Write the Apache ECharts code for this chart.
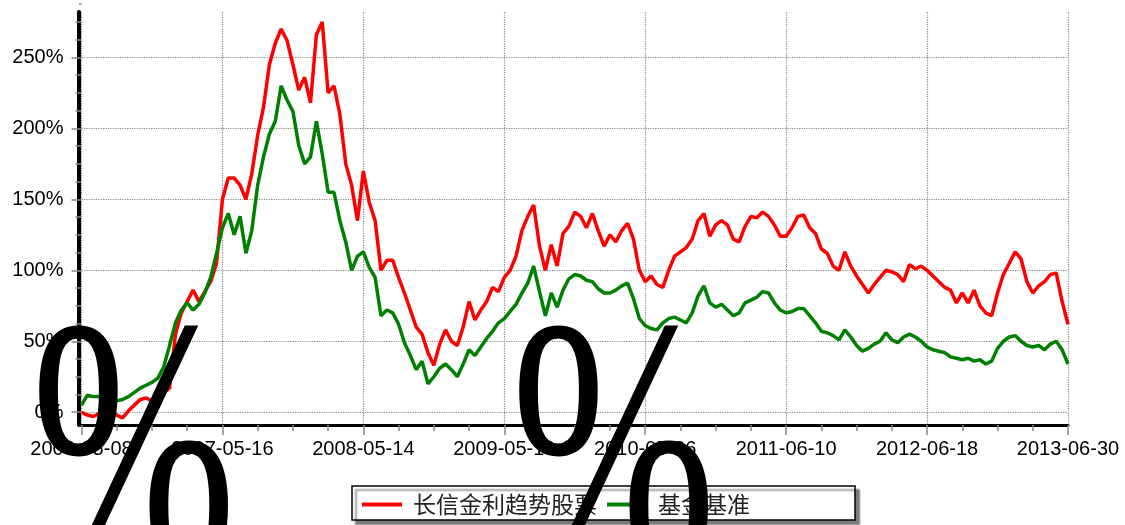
<!DOCTYPE html>
<html><head><meta charset="utf-8">
<script src="https://cdn.jsdelivr.net/npm/echarts@6/dist/echarts.min.js"></script>
<style>html,body{margin:0;padding:0;background:#fff}#c{width:1125px;height:525px}</style>
</head><body><div id="c"></div>
<script>
const tickLabels = ['2006-05-08','2007-05-16','2008-05-14','2009-05-19','2010-05-26','2011-06-10','2012-06-18','2013-06-30'];
const seriesNames = ['长信金利趋势股票','基金基准'];
const fundValues = [0,-2,-3,-1,3,1,-2,-4,1,5,9,10,8,11,14,17,55,70,78,86,78,85,92,105,
150,165,165,160,150,168,195,215,245,260,270,262,245,227,236,218,266,275,225,230,210,175,160,135,
170,148,135,100,107,107,95,84,72,60,55,42,33,48,58,50,47,60,78,65,72,78,88,85,
95,100,110,128,138,146,117,100,118,103,126,131,141,138,130,140,128,117,125,120,128,133,122,100,
92,96,90,88,100,110,113,116,122,135,140,124,132,135,132,122,120,131,138,137,141,138,132,124,
124,130,138,139,130,126,115,112,103,100,113,103,96,90,84,90,95,100,99,97,92,104,101,103,
100,96,92,88,86,77,84,77,86,75,70,68,84,97,105,113,108,92,84,89,92,97,98,78,
62];
const benchValues = [5,12,11,11,8,9,8,9,11,14,17,19,21,24,32,47,63,72,77,72,76,84,95,112,
130,140,125,138,112,128,160,180,196,205,230,220,212,188,175,180,205,182,155,155,135,120,100,110,
113,102,95,68,72,70,62,49,40,30,36,20,25,31,34,30,25,34,44,40,46,52,57,63,
66,71,76,84,91,103,85,68,84,74,86,94,97,96,93,92,87,84,84,86,89,91,80,66,
61,59,58,63,66,67,65,63,70,82,89,77,74,76,72,68,70,77,79,81,85,84,77,72,
70,71,73,73,68,63,57,56,54,51,58,53,47,43,45,48,50,56,51,49,53,55,53,50,
46,44,43,42,39,38,37,38,36,37,34,36,45,50,53,54,50,47,46,47,44,48,50,44,
34];

const chart = echarts.init(document.getElementById('c'), null, {renderer:'canvas'});
const lastIdx = fundValues.length - 1;
const step = lastIdx / (tickLabels.length - 1);
// plot area geometry
const gTop = 12, gBottomPx = 425, yMin = -9, yMax = 282;
const pxPer = (gBottomPx - gTop) / (yMax - yMin);
const zeroPx = gBottomPx + yMin * pxPer;
const scaleTop = 300;
const tickGridTop = zeroPx - scaleTop * pxPer;
const gridL = 81.5, gridR = 57;
const grey = '#888';
chart.setOption({
  animation:false,
  backgroundColor:'#fff',
  grid:[
    {left:gridL,right:gridR,top:gTop,bottom:525-gBottomPx,outerBoundsMode:'none'},
    {left:gridL,right:gridR,top:tickGridTop,bottom:525-zeroPx,outerBoundsMode:'none'}
  ],
  xAxis:[
    {type:'value',gridIndex:0,min:0,max:lastIdx,interval:step,
     axisLine:{show:true,onZero:false,lineStyle:{color:'#000',width:3}},
     axisTick:{show:true,length:10,lineStyle:{color:grey,width:1.5}},
     minorTick:{show:true,splitNumber:4,length:6,lineStyle:{color:grey,width:1.5}},
     splitLine:{show:true,lineStyle:{color:grey,type:'dotted',width:1.2}},
     axisLabel:{color:'#000',fontSize:20,fontFamily:'Liberation Sans',margin:14,
       formatter:v=>tickLabels[Math.round(v/step)]}},
    {type:'value',gridIndex:1,min:0,max:lastIdx,show:false}
  ],
  yAxis:[
    {type:'value',gridIndex:0,min:yMin,max:yMax,offset:3,
     axisLine:{show:true,onZero:false,lineStyle:{color:'#000',width:4}},
     axisTick:{show:false},axisLabel:{show:false},splitLine:{show:false}},
    {type:'value',gridIndex:1,min:0,max:scaleTop,interval:50,offset:3,
     axisLine:{show:false},
     axisTick:{show:true,length:10,lineStyle:{color:grey,width:1.5}},
     minorTick:{show:true,splitNumber:4,length:6,lineStyle:{color:grey,width:1.5}},
     splitLine:{show:true,lineStyle:{color:grey,type:'dotted',width:1.2}},
     axisLabel:{color:'#000',fontSize:20,fontFamily:'Liberation Sans',margin:15,
       formatter:v=>v+'%'}}
  ],
  legend:{left:352,top:489,orient:'horizontal',itemWidth:40,itemHeight:4,itemGap:10,z:10,
    padding:[4,10,4,10],
    textStyle:{fontSize:23,color:'#222',fontFamily:'Noto Sans CJK SC',padding:[0,0,0,6]},
    data:[{name:seriesNames[0],icon:'rect'},{name:seriesNames[1],icon:'rect'}]},
  series:[
    {name:seriesNames[0],type:'line',xAxisIndex:0,yAxisIndex:0,showSymbol:false,symbol:'none',color:'#ff0000',
     lineStyle:{width:3.5,color:'#ff0000'},data:fundValues.map((v,i)=>[i,v])},
    {name:seriesNames[1],type:'line',xAxisIndex:0,yAxisIndex:0,showSymbol:false,symbol:'none',color:'#008000',
     lineStyle:{width:3.5,color:'#008000'},data:benchValues.map((v,i)=>[i,v])}
  ],
  graphic:[
    {type:'rect',z:1,shape:{x:0,y:0,width:20,height:10},x:59,y:0,style:{fill:'#fff'}},
    {type:'rect',z:2,x:352,y:486,shape:{width:503,height:34},
     style:{fill:'#fff',stroke:'#000',lineWidth:1.5,shadowColor:'rgba(0,0,0,0.5)',shadowOffsetX:4,shadowOffsetY:4,shadowBlur:2}},
    {type:'text',x:30.8,y:290,scaleX:0.68,z:100,style:{text:'%',font:'363px "Liberation Serif"',fill:'#000',verticalAlign:'top'}},
    {type:'text',x:510.8,y:290,scaleX:0.68,z:100,style:{text:'%',font:'363px "Liberation Serif"',fill:'#000',verticalAlign:'top'}}
  ]
});
</script></body></html>
